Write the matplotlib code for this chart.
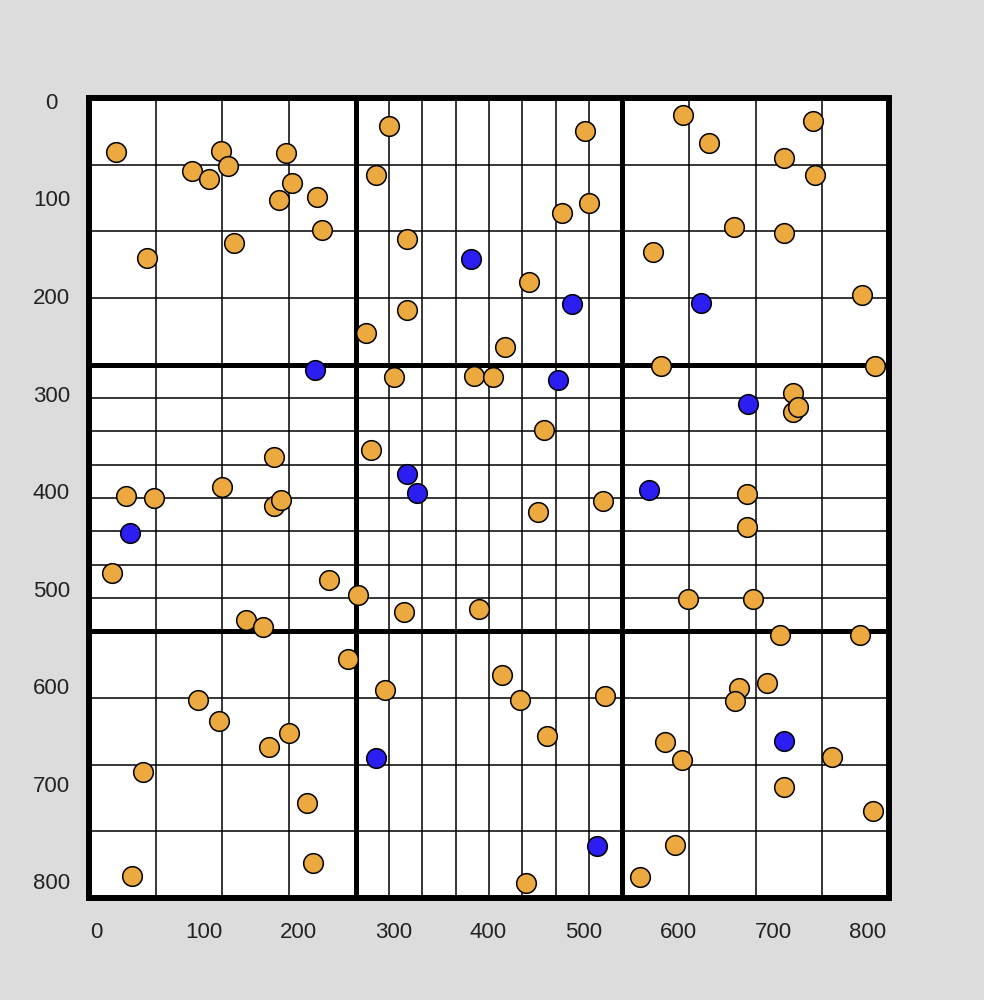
#%% Imports

import matplotlib
matplotlib.use('Agg')
import matplotlib.pyplot as plt
import numpy as np

plt.rcParams['font.family'] = ['Liberation Sans', 'DejaVu Sans']


#%% Data (plot units 0..820)

size = 820

orange_x = [28, 135, 106, 123, 142, 202, 208, 195, 234, 239, 149, 59, 284, 294,
            308, 508, 485, 513, 326, 451, 326, 426, 609, 742, 635, 712, 744, 661,
            712, 578, 792, 586, 806,
            190, 136, 38, 67, 190, 197, 24, 246, 276, 161, 178, 313, 395, 414,
            466, 289, 460, 527, 323, 400, 722, 722, 727, 674, 674, 614, 681,
            708, 790, 265, 112, 133, 205, 185, 55, 223, 230, 44, 303, 423, 442,
            529, 469, 448, 565, 666, 662, 695, 590, 608, 762, 712, 804, 601]
orange_y = [55, 54, 75, 83, 70, 56, 87, 105, 101, 135, 149, 164, 241, 79,
            29, 34, 118, 108, 145, 189, 217, 255, 17, 24, 46, 62, 79, 132,
            138, 158, 202, 275, 275,
            368, 399, 408, 410, 418, 412, 487, 494, 509, 535, 542, 286, 285, 286,
            340, 361, 424, 413, 527, 524, 302, 322, 317, 406, 440, 514, 514,
            550, 550, 575, 617, 639, 651, 665, 691, 723, 784, 797, 607, 591, 617,
            613, 654, 805, 798, 605, 618, 600, 660, 679, 675, 706, 731, 766]

blue_x = [232, 392, 495, 627, 481, 326, 336, 42, 675, 574, 294, 521, 712]
blue_y = [279, 165, 211, 210, 289, 385, 405, 446, 314, 402, 677, 767, 659]

tick_values = [0, 100, 200, 300, 400, 500, 600, 700, 800]


#%% Figure

fig = plt.figure(figsize=(9.84, 10), dpi=100, facecolor='#dcdcdc')
ax = fig.add_axes([89/984, 102/1000, 800/984, 800/1000])
ax.set_facecolor('white')
ax.set_xlim(0, size)
ax.set_ylim(size, 0)

# grid: thirds, outer cells split in 4, middle band split in 8
third = size/3
for i in range(13):
    v = i*size/12
    if i % 4 == 0:
        continue
    if 4 < i < 8:
        continue
    ax.axvline(v, color='black', lw=1.1, zorder=1)
    ax.axhline(v, color='black', lw=1.1, zorder=1)
for v in np.arange(third, 2*third + 1, third/8)[1:-1]:
    ax.axvline(v, color='black', lw=1.1, zorder=1)
    ax.axhline(v, color='black', lw=1.1, zorder=1)
for v in [third, 2*third]:
    ax.axvline(v, color='black', lw=3.6, zorder=2)
    ax.axhline(v, color='black', lw=3.6, zorder=2)

ax.scatter(orange_x, orange_y, s=200, c='#eba93f', edgecolors='black',
           linewidths=1.1, zorder=3, clip_on=False)
ax.scatter(blue_x, blue_y, s=200, c='#2c1df0', edgecolors='black',
           linewidths=1.1, zorder=3, clip_on=False)

for sp in ax.spines.values():
    sp.set_linewidth(4.3)
    sp.set_zorder(4)

# tick labels sit a bit off the grid, like in the source picture
ax.set_xticks([v*0.973 + 1 for v in tick_values])
ax.set_xticklabels([str(v) for v in tick_values], ha='left', va='center')
ax.set_yticks([v + 3 for v in tick_values])
ax.set_yticklabels([str(v) for v in tick_values], ha='center')
ax.tick_params(axis='x', length=0, pad=25, labelsize=16, labelcolor='#222222')
ax.tick_params(axis='y', length=0, pad=27, labelsize=16, labelcolor='#222222')

fig.savefig('out.png', dpi=100, facecolor=fig.get_facecolor())
